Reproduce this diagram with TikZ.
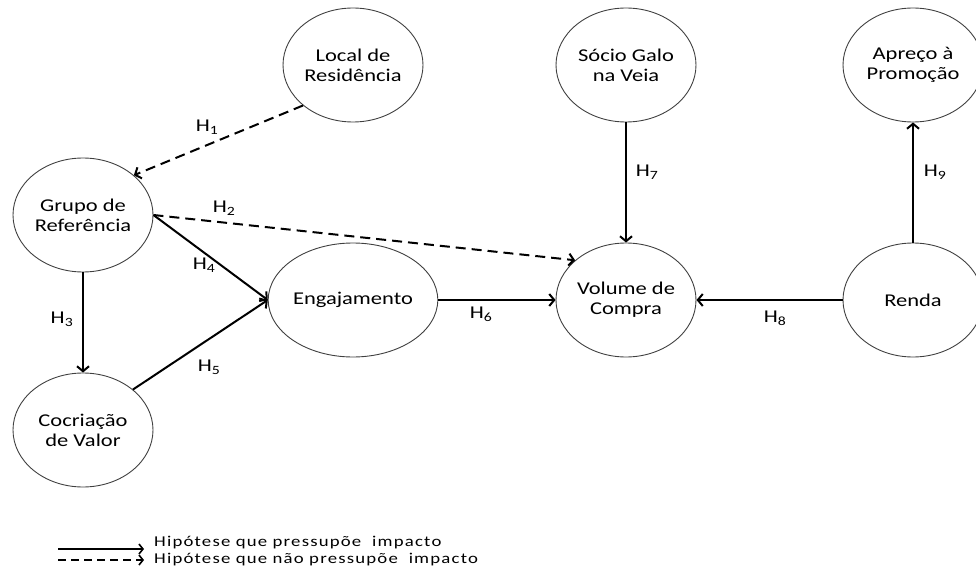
\documentclass[tikz,border=0pt]{standalone}
\usepackage{fontspec}
\setmainfont[FakeStretch=1.25]{Carlito}
\usetikzlibrary{shapes.geometric,arrows.meta}
\begin{document}
\begin{tikzpicture}[x=1pt,y=-1pt,
  var/.style={draw=black!75, line width=0.9pt, ellipse, minimum width=140pt, minimum height=114pt, inner sep=0pt, align=center, font=\fontsize{18}{20}\selectfont},
  hyp/.style={line width=2pt, -{Straight Barb[length=5pt,width=12pt]}},
  nohyp/.style={hyp, dash pattern=on 10pt off 6pt},
  lab/.style={font=\fontsize{18}{20}\selectfont, inner sep=0pt},
  legtxt/.style={font=\fontsize{15}{16}\selectfont\addfontfeature{LetterSpace=8}, anchor=west, inner sep=0pt},
  leghyp/.style={line width=1.6pt, -{Straight Barb[length=4pt,width=10pt]}},
  legnohyp/.style={leghyp, dash pattern=on 8pt off 5pt}]
\useasboundingbox (0,0) rectangle (976,569);
\node[var] (loc) at (353,65) {Local de\\Residência};
\node[var] (soc) at (626,65) {Sócio Galo\\na Veia};
\node[var] (apr) at (913,65) {Apreço à\\Promoção};
\node[var] (gru) at (83,215) {Grupo de\\Referência};
\node[var] (eng) at (353,300) {Engajamento};
\node[var] (vol) at (626,300) {Volume de\\Compra};
\node[var] (ren) at (913,300) {Renda};
\node[var] (coc) at (83,430) {Cocriação\\de Valor};

\draw[nohyp] (loc.219) -- (gru.38);
\draw[nohyp] (gru.east) -- (vol.142);
\draw[hyp] (gru.east) -- (eng.west);
\draw[hyp] (gru.south) -- (coc.north);
\draw[hyp] (coc.39) -- (eng.west);
\draw[hyp] (eng.east) -- (vol.west);
\draw[hyp] (soc.south) -- (vol.north);
\draw[hyp] (ren.west) -- (vol.east);
\draw[hyp] (ren.north) -- (apr.south);

\node[lab] (h1) at (207,127) {H\textsubscript{1}};
\node[lab] (h2) at (224,208) {H\textsubscript{2}};
\node[lab] (h3) at (62,319) {H\textsubscript{3}};
\node[lab] (h4) at (204,265) {H\textsubscript{4}};
\node[lab] (h5) at (209,367) {H\textsubscript{5}};
\node[lab] (h6) at (481,314) {H\textsubscript{6}};
\node[lab] (h7) at (647,172) {H\textsubscript{7}};
\node[lab] (h8) at (775,318) {H\textsubscript{8}};
\node[lab] (h9) at (935,172) {H\textsubscript{9}};

\coordinate (l1a) at (58,549);
\coordinate (l1b) at (144,549);
\coordinate (l2a) at (58,560);
\coordinate (l2b) at (144,560);
\draw[leghyp] (l1a) -- (l1b);
\draw[legnohyp] (l2a) -- (l2b);
\node[legtxt] (t1) at (154,543) {Hipótese que pressupõe\ \ impacto};
\node[legtxt] (t2) at (154,560) {Hipótese que não pressupõe\ \ impacto};
\end{tikzpicture}
\end{document}
